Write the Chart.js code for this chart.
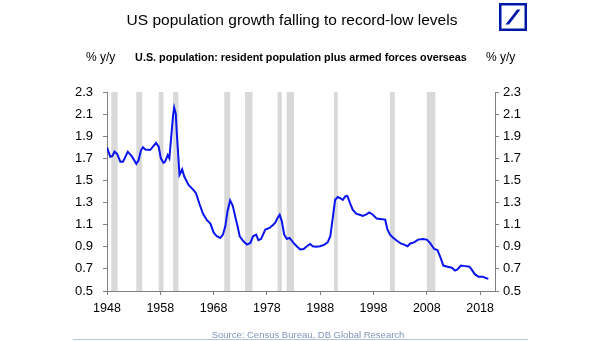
<!DOCTYPE html>
<html>
<head>
<meta charset="utf-8">
<script src="https://cdn.jsdelivr.net/npm/chart.js@4/dist/chart.umd.min.js"></script>
<style>
  html, body { margin: 0; padding: 0; background: #fff; }
  body { width: 605px; height: 341px; position: relative; overflow: hidden; font-family: "Liberation Sans", Arial, sans-serif; }
  .t { position: absolute; white-space: nowrap; }
  #wrap { position: absolute; left: 0; top: 0; width: 605px; height: 341px; }
</style>
</head>
<body>
<div id="wrap"><canvas id="c" width="605" height="341"></canvas></div>
<div class="t" style="left:0;width:584px;top:11px;line-height:18px;font-size:15.5px;text-align:center;color:#000;">US population growth falling to record-low levels</div>
<div class="t" style="left:0;width:602px;top:50px;line-height:14px;font-size:10.8px;font-weight:bold;text-align:center;color:#000;">U.S. population: resident population plus armed forces overseas</div>
<div class="t" style="left:86px;top:50px;line-height:14px;font-size:12px;color:#000;">% y/y</div>
<div class="t" style="left:486px;top:50px;line-height:14px;font-size:12px;color:#000;">% y/y</div>
<div class="t" style="left:0;width:616px;top:329px;line-height:12px;font-size:9.5px;text-align:center;color:#7f95b5;">Source: Census Bureau, DB Global Research</div>
<div style="position:absolute;left:73px;top:339px;width:455px;height:1px;background:#b4c6dc;"></div>
<svg style="position:absolute;left:499px;top:3px;" width="28" height="28" viewBox="0 0 28 28">
  <rect x="1.25" y="1.25" width="25.5" height="25.5" fill="#fff" stroke="#0018a8" stroke-width="2.5"/>
  <polygon points="6.5,21.5 10,21.5 21.5,6.5 18,6.5" fill="#0018a8"/>
</svg>
<script>
// ---- data ----
const years = [
  1948.0,1948.6,1949.0,1949.4,1949.9,1950.5,1951.0,1951.9,1952.7,1953.5,1953.9,1954.4,1954.75,1955.2,1956.1,1956.7,1957.2,1957.7,
  1958.1,1958.6,1958.9,1959.4,1959.7,1960.0,1960.4,1960.6,1960.9,1961.1,1961.6,1962.1,1962.5,1963.3,1964.2,1964.7,1965.4,1966.0,
  1966.75,1967.4,1968.0,1968.6,1969.25,1969.75,1970.2,1970.6,1971.1,1971.6,1972.05,1972.5,1972.9,1973.6,1974.25,1974.9,1975.4,
  1976.0,1976.4,1976.9,1977.7,1978.5,1979.2,1979.6,1980.0,1980.4,1980.8,1981.25,1981.75,1982.25,1983.0,1983.6,1984.25,1984.9,
  1985.5,1986.1,1986.6,1987.25,1988.0,1988.8,1989.4,1989.9,1990.4,1990.8,1991.3,1991.75,1992.25,1992.7,1993.1,1993.6,1994.1,
  1994.75,1995.4,1996.0,1996.75,1997.2,1997.9,1998.6,1999.6,2000.2,2000.6,2001.1,2001.75,2002.4,2003.1,2003.75,2004.4,2004.9,
  2005.6,2006.4,2007.25,2008.0,2008.6,2009.4,2010.0,2010.6,2011.1,2011.9,2012.7,2013.3,2013.75,2014.4,2015.2,2016.0,2016.4,
  2017.05,2017.7,2018.5,2019.1,2019.55
];
const growth = [
  1.80,1.715,1.72,1.76,1.74,1.67,1.67,1.76,1.715,1.65,1.68,1.775,1.80,1.78,1.775,1.81,1.84,1.805,
  1.70,1.66,1.67,1.73,1.70,1.865,2.09,2.16,2.105,1.925,1.55,1.60,1.535,1.46,1.415,1.385,1.28,1.20,
  1.14,1.11,1.03,0.995,0.98,1.01,1.085,1.22,1.32,1.27,1.175,1.085,0.995,0.95,0.92,0.935,0.995,
  1.01,0.96,0.97,1.055,1.07,1.10,1.12,1.16,1.19,1.13,1.01,0.97,0.98,0.935,0.905,0.875,0.88,
  0.905,0.925,0.905,0.90,0.905,0.92,0.94,0.995,1.175,1.325,1.35,1.34,1.325,1.355,1.36,1.295,1.235,
  1.20,1.19,1.18,1.195,1.21,1.19,1.155,1.15,1.145,1.06,1.01,0.98,0.955,0.93,0.92,0.905,0.93,
  0.94,0.965,0.97,0.965,0.935,0.88,0.87,0.80,0.73,0.72,0.71,0.685,0.695,0.73,0.725,0.72,0.695,
  0.65,0.63,0.63,0.617,0.61
];
const recessionStart = [1948.8,1953.5,1957.7,1960.4,1970.0,1973.9,1980.0,1981.7,1990.6,2001.1,2008.0];
const recessionEnd   = [1950.0,1954.6,1958.6,1961.4,1971.1,1975.3,1980.8,1983.1,1991.3,2002.0,2009.6];
const xTickYears = [1948,1958,1968,1978,1988,1998,2008,2018];
const yTickValues = [0.5,0.7,0.9,1.1,1.3,1.5,1.7,1.9,2.1,2.3];

const points = years.map((y, i) => ({ x: y, y: growth[i] }));

const recessionPlugin = {
  id: 'recessions',
  beforeDatasetsDraw(chart) {
    const { ctx, chartArea, scales } = chart;
    ctx.save();
    ctx.fillStyle = '#d9d9d9';
    for (let i = 0; i < recessionStart.length; i++) {
      const x1 = scales.x.getPixelForValue(recessionStart[i]);
      const x2 = scales.x.getPixelForValue(recessionEnd[i]);
      ctx.fillRect(x1, chartArea.top, x2 - x1, chartArea.bottom - chartArea.top);
    }
    ctx.restore();
  }
};

const axisColor = '#808080';
const tickFont = { family: '"Liberation Sans", Arial, sans-serif', size: 13 };

new Chart(document.getElementById('c'), {
  type: 'line',
  data: {
    datasets: [{
      data: points,
      borderColor: '#0a14f0',
      borderWidth: 2,
      pointRadius: 0,
      tension: 0,
      fill: false,
      yAxisID: 'y'
    }]
  },
  options: {
    responsive: false,
    animation: false,
    devicePixelRatio: 1,
    layout: { padding: { top: 92, left: 0, right: 0, bottom: 0 } },
    plugins: { legend: { display: false }, tooltip: { enabled: false }, title: { display: false } },
    scales: {
      x: {
        type: 'linear',
        position: 'bottom',
        min: 1948,
        max: 2020.8,
        afterBuildTicks: s => { s.ticks = xTickYears.map(v => ({ value: v })); },
        afterFit: s => { s.height = 50; },
        ticks: { callback: v => String(v), color: '#000', font: { family: tickFont.family, size: 12.5 }, padding: 6, maxRotation: 0, autoSkip: false },
        grid: { drawOnChartArea: false, drawTicks: true, tickLength: 4, color: axisColor },
        border: { display: true, color: axisColor }
      },
      y: {
        position: 'left',
        min: 0.5,
        max: 2.3,
        afterBuildTicks: s => { s.ticks = yTickValues.map(v => ({ value: v })); },
        afterFit: s => { s.width = 107; },
        ticks: { callback: v => v.toFixed(1), color: '#000', font: tickFont, padding: 10 },
        grid: { drawOnChartArea: false, drawTicks: true, tickLength: 4, color: axisColor },
        border: { display: true, color: axisColor }
      },
      y2: {
        position: 'right',
        min: 0.5,
        max: 2.3,
        afterBuildTicks: s => { s.ticks = yTickValues.map(v => ({ value: v })); },
        afterFit: s => { s.width = 110; },
        ticks: { callback: v => v.toFixed(1), color: '#000', font: tickFont, padding: 4 },
        grid: { drawOnChartArea: false, drawTicks: true, tickLength: 4, color: axisColor },
        border: { display: true, color: axisColor }
      }
    }
  },
  plugins: [recessionPlugin]
});
</script>
</body>
</html>
